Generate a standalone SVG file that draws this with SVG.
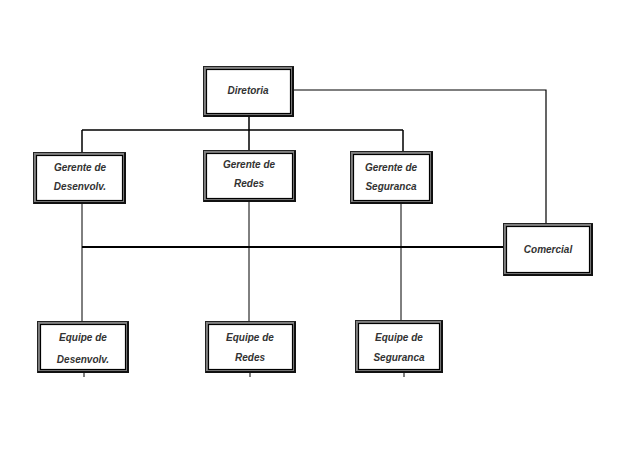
<svg xmlns="http://www.w3.org/2000/svg" width="619" height="453" viewBox="0 0 619 453">
<style>
.band{fill:#fff;stroke:#808080;stroke-width:3}
.out{fill:none;stroke:#222;stroke-width:1}
.in{fill:none;stroke:#000;stroke-width:1.2}
.sh{fill:none;stroke:#111;stroke-width:2}
.t{font-family:"Liberation Sans",Arial,sans-serif;font-size:10px;font-style:italic;font-weight:bold;fill:#333;text-anchor:middle}
.c{stroke:#000;fill:none}
</style>
<rect width="619" height="453" fill="#fff"/>
<g id="connectors">
<path class="c" stroke-width="1.5" d="M249 117V130M82 130H403M82 130V152M249 130V150M403 130V151"/>
<path class="c" stroke-width="1.2" d="M293 90H546V223"/>
<path class="c" stroke-width="1.8" d="M82 247H503"/>
<path class="c" stroke-width="1" d="M82 203V322M249 202V322M401 204V320"/>
<path class="c" stroke-width="1" d="M84 372V377M250 372V377M404 372V377"/>
</g>
<g id="diretoria">
<rect class="band" x="204.5" y="67.5" width="88" height="48"/><rect class="out" x="203.5" y="66.5" width="90" height="50"/><rect class="in" x="206.5" y="69.5" width="84" height="44"/><path class="sh" d="M204 116H293V67"/>
<text class="t" x="248" y="94">Diretoria</text>
</g>
<g id="gerente-desenvolv">
<rect class="band" x="34.5" y="153.5" width="90" height="49"/><rect class="out" x="33.5" y="152.5" width="92" height="51"/><rect class="in" x="36.5" y="155.5" width="86" height="45"/><path class="sh" d="M34 203H125V153"/>
<text class="t" x="80" y="171">Gerente de</text><text class="t" x="80" y="190">Desenvolv.</text>
</g>
<g id="gerente-redes">
<rect class="band" x="204.5" y="151.5" width="90" height="49"/><rect class="out" x="203.5" y="150.5" width="92" height="51"/><rect class="in" x="206.5" y="153.5" width="86" height="45"/><path class="sh" d="M204 201H295V151"/>
<text class="t" x="249" y="168">Gerente de</text><text class="t" x="249" y="187">Redes</text>
</g>
<g id="gerente-seguranca">
<rect class="band" x="351.5" y="152.5" width="80" height="50"/><rect class="out" x="350.5" y="151.5" width="82" height="52"/><rect class="in" x="353.5" y="154.5" width="76" height="46"/><path class="sh" d="M351 203H432V152"/>
<text class="t" x="391" y="171">Gerente de</text><text class="t" x="391" y="190">Seguranca</text>
</g>
<g id="comercial">
<rect class="band" x="504.5" y="224.5" width="87" height="50"/><rect class="out" x="503.5" y="223.5" width="89" height="52"/><rect class="in" x="506.5" y="226.5" width="83" height="46"/><path class="sh" d="M504 275H592V224"/>
<text class="t" x="548" y="253">Comercial</text>
</g>
<g id="equipe-desenvolv">
<rect class="band" x="38.5" y="322.5" width="89" height="49"/><rect class="out" x="37.5" y="321.5" width="91" height="51"/><rect class="in" x="40.5" y="324.5" width="85" height="45"/><path class="sh" d="M38 372H128V322"/>
<text class="t" x="83" y="341">Equipe de</text><text class="t" x="83" y="363">Desenvolv.</text>
</g>
<g id="equipe-redes">
<rect class="band" x="206.5" y="322.5" width="88" height="49"/><rect class="out" x="205.5" y="321.5" width="90" height="51"/><rect class="in" x="208.5" y="324.5" width="84" height="45"/><path class="sh" d="M206 372H295V322"/>
<text class="t" x="250" y="341">Equipe de</text><text class="t" x="250" y="361">Redes</text>
</g>
<g id="equipe-seguranca">
<rect class="band" x="356.5" y="321.5" width="85" height="50"/><rect class="out" x="355.5" y="320.5" width="87" height="52"/><rect class="in" x="358.5" y="323.5" width="81" height="46"/><path class="sh" d="M356 372H442V321"/>
<text class="t" x="399" y="341">Equipe de</text><text class="t" x="399" y="361">Seguranca</text>
</g>
</svg>
